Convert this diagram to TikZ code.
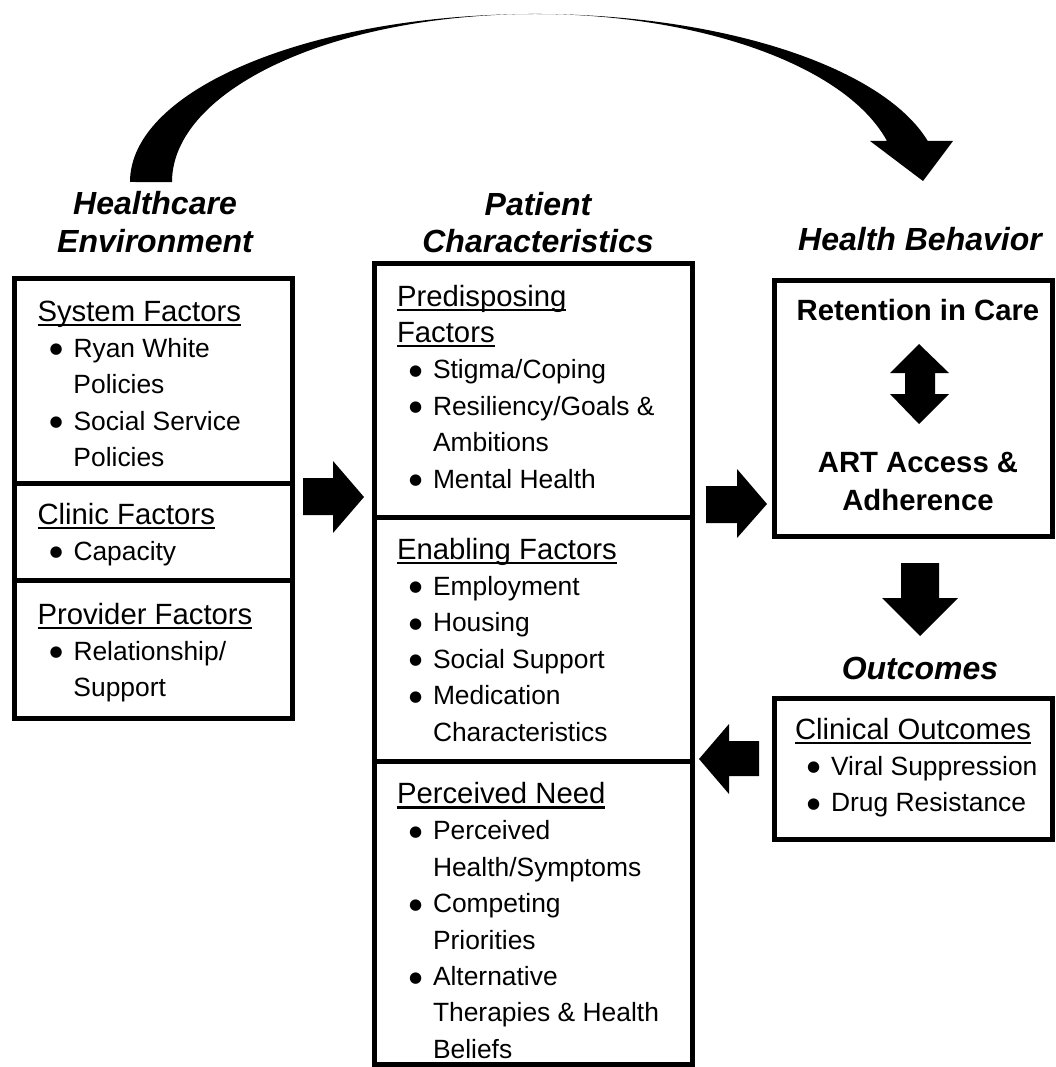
\documentclass[tikz,border=0pt]{standalone}
\usepackage{fontspec}
\setmainfont{Liberation Sans}
\newfontfamily\dejavu{DejaVu Sans}
\newcommand{\hfnt}{\fontsize{29.3pt}{36.4pt}\selectfont}
\newcommand{\bfnt}{\fontsize{26.4pt}{36.4pt}\selectfont}
\newcommand{\ulh}[1]{\leavevmode\setbox0\hbox{#1}\rlap{\rule[-5pt]{\wd0}{2.2pt}}\box0}
\newcommand{\bulmark}{\hspace*{12pt}\makebox[24pt][l]{\raisebox{3.5pt}{\dejavu\fontsize{15pt}{15pt}\selectfont ●}}}
\newcommand{\sechead}[1]{{\hfnt\ulh{#1}\par}}
\newcommand{\secbul}[1]{{\bfnt\leavevmode\bulmark #1\par}}
\newcommand{\seccont}[1]{{\bfnt\leavevmode\hspace*{36pt}#1\par}}
\tikzset{
  box/.style={draw=black, line width=5pt, rectangle, inner sep=0pt, fill=none},
  divl/.style={line width=5pt},
  sec/.style={anchor=base west, inner sep=0pt, outer sep=0pt},
  ttl/.style={anchor=base, inner sep=0pt, font=\fontsize{32pt}{37pt}\selectfont\bfseries\itshape},
  bld/.style={anchor=base, inner sep=0pt, font=\fontsize{29.3pt}{36pt}\selectfont\bfseries},
  blk/.style={fill=black, draw=none}
}
\begin{document}
\begin{tikzpicture}[x=1pt,y=-1pt]
\useasboundingbox (0,0) rectangle (1056,1067);

% ---------- boxes ----------
\node[box, minimum width=278pt, minimum height=440pt] (env) at (153.7,498) {};
\node[box, minimum width=318.5pt, minimum height=801pt] (pat) at (533.25,663.5) {};
\node[box, minimum width=278pt, minimum height=256pt] (beh) at (913,408) {};
\node[box, minimum width=278pt, minimum height=141.5pt] (outc) at (913,768.75) {};

\coordinate (d1) at (0,483.5);
\coordinate (d2) at (0,580);
\coordinate (d3) at (0,517.5);
\coordinate (d4) at (0,761);
\draw[divl] (env.west |- d1) -- (env.east |- d1);
\draw[divl] (env.west |- d2) -- (env.east |- d2);
\draw[divl] (pat.west |- d3) -- (pat.east |- d3);
\draw[divl] (pat.west |- d4) -- (pat.east |- d4);

% ---------- titles ----------
\node[ttl] (hc1) at (155,215) {Healthcare};
\node[ttl] (hc2) at (155,252) {Environment};
\node[ttl] (pc1) at (538,216) {Patient};
\node[ttl] (pc2) at (538,252) {Characteristics};
\node[ttl] (hb) at (920,251) {Health Behavior};
\node[ttl] (oc) at (920,679) {Outcomes};

% ---------- left box ----------
\node[sec] (sys) at (37.5,321) {\parbox[t]{245pt}{%
  \sechead{System Factors}%
  \secbul{Ryan White}%
  \seccont{Policies}%
  \secbul{Social Service}%
  \seccont{Policies}}};
\node[sec] (cli) at (37.5,524) {\parbox[t]{245pt}{%
  \sechead{Clinic Factors}%
  \secbul{Capacity}}};
\node[sec] (pro) at (37.5,624) {\parbox[t]{245pt}{%
  \sechead{Provider Factors}%
  \secbul{Relationship/}%
  \seccont{Support}}};

% ---------- middle box ----------
\node[sec] (pre) at (397,306) {\parbox[t]{285pt}{%
  \sechead{Predisposing}%
  \sechead{Factors}%
  \secbul{Stigma/Coping}%
  \secbul{Resiliency/Goals \&}%
  \seccont{Ambitions}%
  \secbul{Mental Health}}};
\node[sec] (ena) at (397,559) {\parbox[t]{285pt}{%
  \sechead{Enabling Factors}%
  \secbul{Employment}%
  \secbul{Housing}%
  \secbul{Social Support}%
  \secbul{Medication}%
  \seccont{Characteristics}}};
\node[sec] (per) at (397,803.5) {\parbox[t]{285pt}{%
  \sechead{Perceived Need}%
  \secbul{Perceived}%
  \seccont{Health/Symptoms}%
  \secbul{Competing}%
  \seccont{Priorities}%
  \secbul{Alternative}%
  \seccont{Therapies \& Health}%
  \seccont{Beliefs}}};

% ---------- right boxes ----------
\node[bld] (ret) at (918,320.5) {Retention in Care};
\node[bld] (art1) at (918,472.5) {ART Access \&};
\node[bld] (art2) at (918,510.5) {Adherence};
\node[sec] (clo) at (795,739) {\parbox[t]{250pt}{%
  \sechead{Clinical Outcomes}%
  \secbul{Viral Suppression}%
  \secbul{Drug Resistance}}};

% ---------- block arrows ----------
% environment -> patient
\fill[blk] (303,478) -- (333,478) -- (333,461) -- (364,497) -- (333,533) -- (333,515) -- (303,515) -- cycle;
% patient -> behavior
\fill[blk] (706,486) -- (737,486) -- (737,469) -- (767,504) -- (737,538) -- (737,523) -- (706,523) -- cycle;
% retention <-> ART
\fill[blk] (919,344) -- (949,373) -- (935,373) -- (935,394) -- (949,394) -- (919,424) -- (890,394) -- (905,394) -- (905,373) -- (890,373) -- cycle;
% behavior -> outcomes
\fill[blk] (901,563) -- (939,563) -- (939,598) -- (958,598) -- (920,636) -- (882,598) -- (901,598) -- cycle;
% outcomes -> patient
\fill[blk] (759,741) -- (729,741) -- (729,724) -- (699,759) -- (729,794) -- (729,776) -- (759,776) -- cycle;

% ---------- top curved arrow ----------
\fill[blk] (130,182) arc[start angle=180, end angle=14.13, x radius=405pt, y radius=168pt]
  -- (953,141) -- (923,181) -- (870,141) -- (887,141)
  arc[start angle=14.13, end angle=180, x radius=363pt, y radius=168pt] -- cycle;
\end{tikzpicture}
\end{document}
